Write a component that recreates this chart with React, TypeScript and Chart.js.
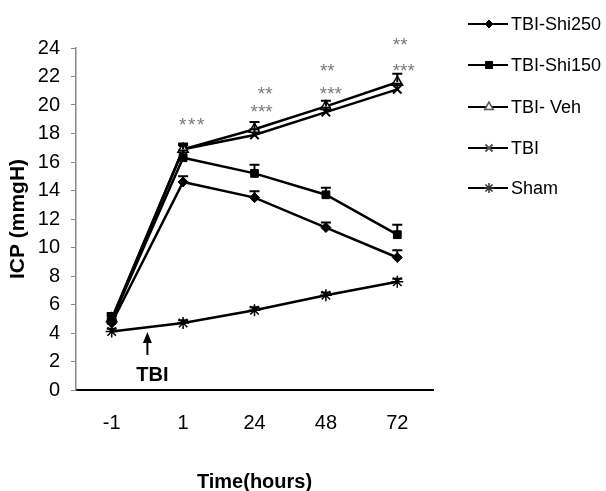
import React, { useEffect, useRef } from 'react';
import { Chart, registerables } from 'chart.js';
import { drawPoint } from 'chart.js/helpers';

Chart.register(...registerables);

const categories = ['-1', '1', '24', '48', '72'];
const yTickValues = [0, 2, 4, 6, 8, 10, 12, 14, 16, 18, 20, 22, 24];

const shi250 = [4.7, 14.6, 13.5, 11.4, 9.3];
const shi250Err = [0.3, 0.4, 0.45, 0.35, 0.5];
const shi150 = [4.9, 16.3, 15.2, 13.7, 10.9];
const shi150Err = [0.4, 0.5, 0.6, 0.5, 0.7];
const veh = [5.0, 16.9, 18.3, 19.9, 21.6];
const vehErr = [0.4, 0.4, 0.5, 0.4, 0.6];
const tbi = [4.9, 16.9, 17.9, 19.5, 21.1];
const tbiErr = [0.3, 0.3, 0.4, 0.3, 0.4];
const sham = [4.1, 4.7, 5.6, 6.65, 7.6];
const shamErr = [0.2, 0.2, 0.2, 0.2, 0.2];

// significance marks: x in category-index units, y in mmHg
const sigX = [1.12, 2.15, 2.1, 3.02, 3.07, 4.04, 4.09];
const sigY = [18.88, 21.05, 19.8, 22.7, 21.05, 24.5, 22.7];
const sigText = ['*\u200A*\u200A*', '**', '***', '**', '***', '**', '***'];

// TBI injury arrow: between first two categories
const arrowX = 0.5;
const arrowTip = 4.07;
const arrowTail = 2.46;
const arrowLabelY = 1.05;
const arrowLabel = 'TBI';

const FONT = '"Liberation Sans", Arial, sans-serif';

const errorBarsPlugin = {
  id: 'errorBars',
  afterDatasetsDraw(chart: any) {
    const ctx = chart.ctx;
    const y = chart.scales.y;
    ctx.save();
    ctx.strokeStyle = '#000';
    ctx.lineWidth = 2;
    chart.data.datasets.forEach((ds: any, di: number) => {
      const meta = chart.getDatasetMeta(di);
      if (!ds.errors) return;
      ds.data.forEach((v: number, i: number) => {
        const pt = meta.data[i];
        const x = pt.x;
        const y0 = y.getPixelForValue(v);
        const y1 = y.getPixelForValue(v + ds.errors[i]);
        ctx.beginPath();
        ctx.moveTo(x, y0);
        ctx.lineTo(x, y1);
        ctx.moveTo(x - 5, y1);
        ctx.lineTo(x + 5, y1);
        ctx.stroke();
      });
    });
    ctx.restore();
  },
};

const annotationsPlugin = {
  id: 'annots',
  afterDraw(chart: any) {
    const ctx = chart.ctx;
    const xs = chart.scales.x;
    const ys = chart.scales.y;
    ctx.save();
    // significance stars
    ctx.fillStyle = '#7a7a7a';
    ctx.font = `19px ${FONT}`;
    ctx.textAlign = 'center';
    ctx.textBaseline = 'alphabetic';
    sigText.forEach((t, i) => {
      const px = xs.getPixelForValue(sigX[i]);
      const py = ys.getPixelForValue(sigY[i]);
      ctx.fillText(t, px, py + 10);
    });
    // arrow
    const ax = xs.getPixelForValue(arrowX);
    const tipY = ys.getPixelForValue(arrowTip);
    const tailY = ys.getPixelForValue(arrowTail);
    ctx.strokeStyle = '#000';
    ctx.fillStyle = '#000';
    ctx.lineWidth = 2;
    ctx.beginPath();
    ctx.moveTo(ax, tailY);
    ctx.lineTo(ax, tipY + 6);
    ctx.stroke();
    ctx.beginPath();
    ctx.moveTo(ax, tipY);
    ctx.lineTo(ax - 4.5, tipY + 11);
    ctx.lineTo(ax + 4.5, tipY + 11);
    ctx.closePath();
    ctx.fill();
    ctx.font = `bold 20px ${FONT}`;
    ctx.textBaseline = 'middle';
    ctx.fillText(arrowLabel, ax + 5, ys.getPixelForValue(arrowLabelY));

    // legend
    const rows = [24, 65, 107, 148, 188];
    chart.data.datasets.forEach((ds: any, i: number) => {
      const ry = rows[i];
      ctx.strokeStyle = '#000';
      ctx.lineWidth = 2;
      ctx.beginPath();
      ctx.moveTo(468, ry);
      ctx.lineTo(508, ry);
      ctx.stroke();
      ctx.fillStyle = ds.pointBackgroundColor;
      ctx.strokeStyle = ds.legendBorder || '#000';
      ctx.lineWidth = ds.pointBorderWidth;
      drawPoint(ctx, {
        pointStyle: ds.pointStyle,
        radius: ds.legendRadius,
        rotation: 0,
        borderWidth: ds.pointBorderWidth,
      } as any, 489, ry);
      ctx.fillStyle = '#000';
      ctx.font = `18px ${FONT}`;
      ctx.textAlign = 'left';
      ctx.textBaseline = 'middle';
      ctx.fillText(ds.label, 511, ry + 1);
    });
    ctx.restore();
  },
};

export default function App() {
  const ref = useRef<HTMLCanvasElement | null>(null);
  useEffect(() => {
    if (!ref.current) return;
    const mk = (label: string, data: number[], errors: number[], style: string, radius: number, bg: string, bw: number, legendRadius: number, legendBorder?: string) => ({
      label,
      data,
      errors,
      borderColor: '#000',
      borderWidth: 2.5,
      pointStyle: style,
      pointRadius: radius,
      pointBackgroundColor: bg,
      pointBorderColor: '#000',
      pointBorderWidth: bw,
      legendRadius,
      legendBorder,
      fill: false,
      tension: 0,
    });
    const chart = new Chart(ref.current, {
      type: 'line',
      data: {
        labels: categories,
        datasets: [
          mk('TBI-Shi250', shi250, shi250Err, 'rectRot', 5, '#000', 1, 4),
          mk('TBI-Shi150', shi150, shi150Err, 'rect', 5.5, '#000', 1, 5),
          mk('TBI- Veh', veh, vehErr, 'triangle', 6, '#fff', 1.5, 5, '#555'),
          mk('TBI', tbi, tbiErr, 'crossRot', 6, '#000', 2, 5, '#555'),
          mk('Sham', sham, shamErr, 'star', 6, '#000', 1.5, 5, '#333'),
        ] as any,
      },
      options: {
        animation: false,
        responsive: false,
        maintainAspectRatio: false,
        layout: { padding: { left: 0, right: 173, top: 48, bottom: 0 } },
        plugins: {
          legend: { display: false },
          tooltip: { enabled: false },
        },
        scales: {
          x: {
            type: 'category',
            offset: true,
            grid: { display: false, drawTicks: false },
            border: { display: true, color: '#000', width: 2 },
            ticks: { color: '#000', font: { size: 20, family: FONT }, padding: 21 },
            title: { display: true, text: 'Time(hours)', color: '#000', font: { size: 20, weight: 'bold', family: FONT }, padding: { top: 0, bottom: -3 } },
            afterFit: (s: any) => { s.height = 101; },
          },
          y: {
            min: 0,
            max: 24,
            afterBuildTicks: (s: any) => { s.ticks = yTickValues.map((v) => ({ value: v })); },
            grid: { display: true, drawOnChartArea: false, drawTicks: true, tickLength: 5, color: '#888', lineWidth: 1 },
            border: { display: true, color: '#888', width: 1.5 },
            ticks: { color: '#000', font: { size: 20, family: FONT }, padding: 11 },
            title: { display: true, text: 'ICP (mmgH)', color: '#000', font: { size: 21, weight: 'bold', family: FONT }, padding: { top: 6, bottom: 0 } },
            afterFit: (s: any) => { s.width = 76; },
          },
        },
      },
      plugins: [errorBarsPlugin, annotationsPlugin],
    } as any);
    return () => chart.destroy();
  }, []);
  return (
    <div style={{ position: 'absolute', left: 0, top: 0, width: 606, height: 491, background: '#fff' }}>
      <canvas ref={ref} width={606} height={491} style={{ width: 606, height: 491 }} />
    </div>
  );
}
